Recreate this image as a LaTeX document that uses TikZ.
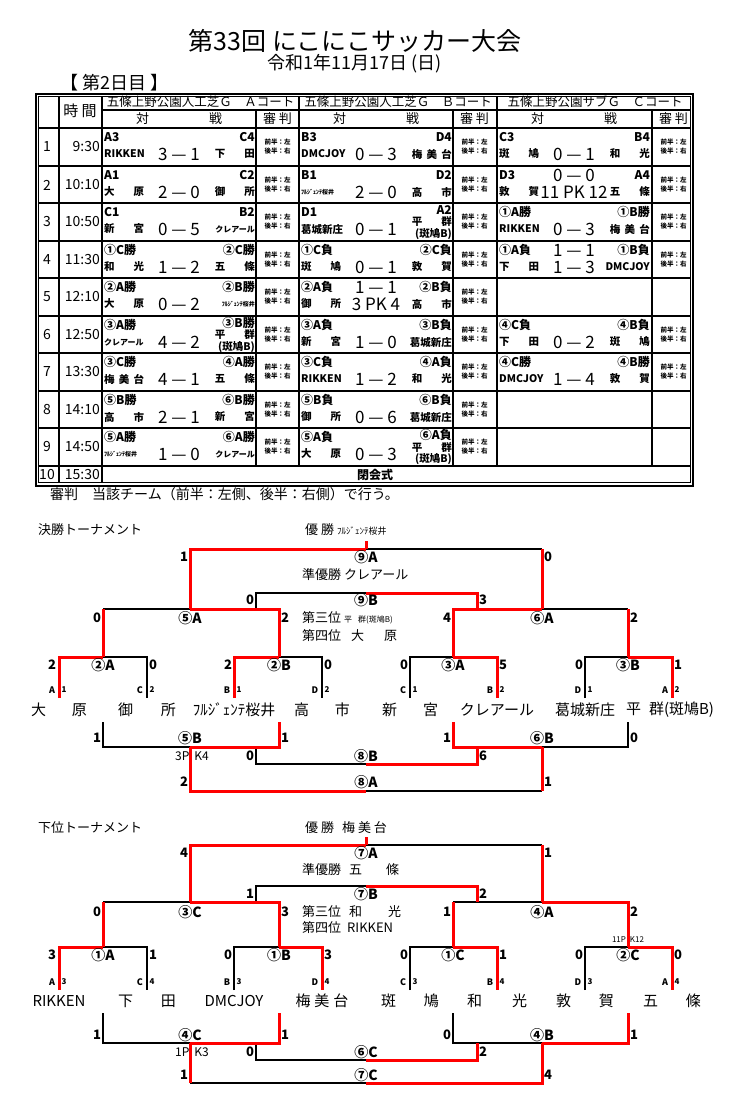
\documentclass[tikz,border=0pt]{standalone}
\usepackage{fontspec}
\setmainfont{Noto Sans CJK JP}
\newcommand\fs[1]{\fontsize{#1}{#1}\selectfont}
\newcommand\spr[1]{\makebox[40pt][s]{#1}}
\newcommand\kat[1]{{\fs{6}#1}}
\tikzset{
 tl/.style={inner sep=0pt,font=\bfseries\fs{12}},
 tm/.style={inner sep=0pt,font=\bfseries\fs{10.5}},
 scr/.style={inner sep=0pt,font=\fs{17}},
 jd/.style={inner sep=0pt,font=\bfseries\fontsize{6.5}{9}\selectfont,align=center},
 gl/.style={line width=1.2pt},
 bk/.style={line width=1.3pt,black},
 rd/.style={line width=3pt,red},
 sc/.style={inner sep=0pt,font=\bfseries\fs{13}},
 lb/.style={inner sep=0pt,font=\bfseries\fs{14}},
 sd/.style={inner sep=0pt,font=\bfseries\fs{9}},
 nm/.style={inner sep=0pt,font=\fs{15}},
 tx/.style={inner sep=0pt,font=\fs{13},anchor=west},
}
\newcommand\cell[8]{%
 \node[tl,anchor=west] at (#1+2,#2+9) {#3};
 \node[scr] at (#1+77,#2+9) {#4};
 \node[tl,anchor=east] at (#1+153,#2+9) {#5};
 \node[tm,anchor=west] at (#1+2,#2+26) {#6};
 \node[scr] at (#1+77,#2+26) {#7};
 \node[tm,anchor=east] at (#1+153,#2+26) {#8};}
\newcommand\hira[3]{%
 \node[tl,anchor=east] at (#1+153,#2+7) {#3};
 \node[tm,anchor=east] at (#1+153,#2+19) {\spr{平\hfil 群}};
 \node[tm,anchor=east] at (#1+153,#2+31) {(斑鳩B)};}
\newcommand\jdg[2]{\node[jd] at (#1+21.5,#2+19) {前半：左\\後半：右};}
\newcommand\rw[3]{\node[inner sep=0pt,font=\fs{14}] at (47,#1+19) {#2};
 \node[inner sep=0pt,font=\fs{14},anchor=east] at (100,#1+19) {#3};}
\begin{document}
\begin{tikzpicture}[x=1pt,y=-1pt]
\useasboundingbox[fill=white] (0,0) rectangle (743,1108);
% titles
\node[inner sep=0pt,font=\fs{25}] (title) at (355,41) {第33回 にこにこサッカー大会};
\node[inner sep=0pt,font=\fs{18}] (date) at (355,64) {令和1年11月17日 (日)};
\node[inner sep=0pt,font=\fs{18},anchor=west] (day) at (60,83) {【 第2日目 】};
% table grid
\draw[line width=2pt] (36,94) rectangle (693,485.5);
\draw[line width=0.8pt] (38.5,96.5) rectangle (690.5,482.5);
\draw[gl] (102,110)--(690.5,110);
\draw[gl] (38.5,128)--(690.5,128);
\foreach \y in {166,203,241,278,316,353,391,428}{\draw[gl] (38.5,\y)--(690.5,\y);}
\draw[line width=2pt] (38.5,466)--(690.5,466);
\foreach \x in {59,102}{\draw[gl] (\x,96.5)--(\x,482.5);}
\foreach \x in {299,497}{\draw[gl] (\x,96.5)--(\x,466);}
\foreach \x in {256,453,652}{\draw[gl] (\x,110)--(\x,466);}
% headers
\node[inner sep=0pt,font=\fs{15}] (jikan) at (80,111) {時 間};
\node[inner sep=0pt,font=\fs{12.5}] (ha) at (200.5,102) {五條上野公園人工芝Ｇ　Ａコート};
\node[inner sep=0pt,font=\fs{12.5}] (hb) at (398,102) {五條上野公園人工芝Ｇ　Ｂコート};
\node[inner sep=0pt,font=\fs{12.5}] (hc) at (595,102) {五條上野公園サブＧ　Ｃコート};
\foreach \x/\j in {102/256,299/453,497/652}{
 \node[inner sep=0pt,font=\fs{13}] at (\x+77,119) {対\hspace{60pt}戦};
 \node[inner sep=0pt,font=\fs{13}] at (\j+21.5,119) {審 判};}
% rows
\rw{128}{1}{9:30}\rw{166}{2}{10:10}\rw{203}{3}{10:50}\rw{241}{4}{11:30}\rw{278}{5}{12:10}
\rw{316}{6}{12:50}\rw{353}{7}{13:30}\rw{391}{8}{14:10}\rw{428}{9}{14:50}
\node[inner sep=0pt,font=\fs{14}] at (47,475) {10};
\node[inner sep=0pt,font=\fs{14},anchor=east] at (100,475) {15:30};
\node[inner sep=0pt,font=\bfseries\fs{12}] (close) at (375,475) {閉会式};
\foreach \y in {128,166,203,241,278,316,353,391,428}{\jdg{256}{\y}\jdg{453}{\y}}
\foreach \y in {128,166,203,241,316,353}{\jdg{652}{\y}}
% row 1
\cell{102}{128}{A3}{}{C4}{RIKKEN}{3 — 1}{\spr{下\hfil 田}}
\cell{299}{128}{B3}{}{D4}{DMCJOY}{0 — 3}{\spr{梅\hfil 美\hfil 台}}
\cell{497}{128}{C3}{}{B4}{\spr{斑\hfil 鳩}}{0 — 1}{\spr{和\hfil 光}}
% row 2
\cell{102}{166}{A1}{}{C2}{\spr{大\hfil 原}}{2 — 0}{\spr{御\hfil 所}}
\cell{299}{166}{B1}{}{D2}{\kat{ﾌﾙｼﾞｪﾝﾃ桜井}}{2 — 0}{\spr{高\hfil 市}}
\cell{497}{166}{D3}{0 — 0}{A4}{\spr{敦\hfil 賀}}{11 PK 12}{\spr{五\hfil 條}}
% row 3
\cell{102}{203}{C1}{}{B2}{\spr{新\hfil 宮}}{0 — 5}{\fs{8}クレアール}
\cell{299}{203}{D1}{}{}{葛城新庄}{0 — 1}{}
\hira{299}{203}{A2}
\cell{497}{203}{①A勝}{}{①B勝}{RIKKEN}{0 — 3}{\spr{梅\hfil 美\hfil 台}}
% row 4
\cell{102}{241}{①C勝}{}{②C勝}{\spr{和\hfil 光}}{1 — 2}{\spr{五\hfil 條}}
\cell{299}{241}{①C負}{}{②C負}{\spr{斑\hfil 鳩}}{0 — 1}{\spr{敦\hfil 賀}}
\cell{497}{241}{①A負}{1 — 1}{①B負}{\spr{下\hfil 田}}{1 — 3}{DMCJOY}
% row 5
\cell{102}{278}{②A勝}{}{②B勝}{\spr{大\hfil 原}}{0 — 2}{\kat{ﾌﾙｼﾞｪﾝﾃ桜井}}
\cell{299}{278}{②A負}{1 — 1}{②B負}{\spr{御\hfil 所}}{3 PK 4}{\spr{高\hfil 市}}
% row 6
\cell{102}{316}{③A勝}{}{}{\fs{8}クレアール}{4 — 2}{}
\hira{102}{316}{③B勝}
\cell{299}{316}{③A負}{}{③B負}{\spr{新\hfil 宮}}{1 — 0}{葛城新庄}
\cell{497}{316}{④C負}{}{④B負}{\spr{下\hfil 田}}{0 — 2}{\spr{斑\hfil 鳩}}
% row 7
\cell{102}{353}{③C勝}{}{④A勝}{\spr{梅\hfil 美\hfil 台}}{4 — 1}{\spr{五\hfil 條}}
\cell{299}{353}{③C負}{}{④A負}{RIKKEN}{1 — 2}{\spr{和\hfil 光}}
\cell{497}{353}{④C勝}{}{④B勝}{DMCJOY}{1 — 4}{\spr{敦\hfil 賀}}
% row 8
\cell{102}{391}{⑤B勝}{}{⑥B勝}{\spr{高\hfil 市}}{2 — 1}{\spr{新\hfil 宮}}
\cell{299}{391}{⑤B負}{}{⑥B負}{\spr{御\hfil 所}}{0 — 6}{葛城新庄}
% row 9
\cell{102}{428}{⑤A勝}{}{⑥A勝}{\kat{ﾌﾙｼﾞｪﾝﾃ桜井}}{1 — 0}{\fs{8}クレアール}
\cell{299}{428}{⑤A負}{}{}{\spr{大\hfil 原}}{0 — 3}{}
\hira{299}{428}{⑥A負}
\node[inner sep=0pt,font=\fs{14},anchor=west] (note) at (50,494) {審判　当該チーム（前半：左側、後半：右側）で行う。};

% ===== bracket 1 =====
\node[tx] (t1) at (38,530) {決勝トーナメント};
\node[tx] (w1) at (305,530) {優 勝 \kat{\fs{9}ﾌﾙｼﾞｪﾝﾃ桜井}};
\node[tx] (r1) at (302,575) {準優勝 クレアール};
\node[tx] (p3) at (302,618) {第三位 {\fs{8}平\hspace{6pt}群(斑鳩B)}};
\node[tx] (p4) at (302,636) {第四位\hspace{10pt}大\hspace{20pt}原};
\draw[bk] (366,549)--(542,549);
\draw[bk] (256,609)--(256,593)--(366,593);
\draw[bk] (103,609)--(190,609);
\draw[bk] (542,609)--(628,609);
\draw[bk] (103,657)--(147,657)--(147,698);
\draw[bk] (279,657)--(322,657)--(322,698);
\draw[bk] (410,698)--(410,657)--(453,657);
\draw[bk] (585,698)--(585,657)--(628,657);
\draw[bk] (103,722)--(103,747)--(190,747);
\draw[bk] (542,747)--(628,747)--(628,722);
\draw[bk] (256,747)--(256,764)--(366,764);
\draw[bk] (366,791)--(542,791);
\draw[rd] (366,541)--(366,549);
\draw[rd] (190,609)--(190,549)--(366,549);
\draw[rd] (542,549)--(542,609);
\draw[rd] (366,593)--(477,593)--(477,609);
\draw[rd] (103,657)--(103,609);
\draw[rd] (190,609)--(279,609)--(279,657);
\draw[rd] (453,657)--(453,609)--(542,609);
\draw[rd] (628,609)--(628,657);
\draw[rd] (59,698)--(59,657)--(103,657);
\draw[rd] (234,698)--(234,657)--(279,657);
\draw[rd] (453,657)--(497,657)--(497,698);
\draw[rd] (628,657)--(672,657)--(672,698);
\draw[rd] (190,747)--(279,747)--(279,722);
\draw[rd] (453,722)--(453,747)--(542,747);
\draw[rd] (366,764)--(477,764)--(477,747);
\draw[rd] (542,747)--(542,791);
\draw[rd] (190,747)--(190,791)--(366,791);
% labels b1
\foreach \x/\y/\t in {366/557/⑨A,366/600/⑨B,190/618/⑤A,542/618/⑥A,103/665/②A,279/665/②B,453/665/③A,628/665/③B,190/738/⑤B,542/738/⑥B,366/756/⑧B,366/782/⑧A}{\node[lb] at (\x,\y) {\t};}
\foreach \x/\y/\t in {184/557/1,548/557/0,250/600/0,483/600/3,97/618/0,285/618/2,447/618/4,634/618/2,
 52/665/2,153/665/0,228/665/2,328/665/0,404/665/0,503/665/5,579/665/0,678/665/1,
 97/738/1,285/738/1,447/738/1,634/738/0,250/756/0,483/756/6,184/782/2,548/782/1}{\node[sc] at (\x,\y) {\t};}
\foreach \x/\l/\n in {59/A/1,147/C/2,234/B/1,322/D/2,410/C/1,497/B/2,585/D/1,672/A/2}{
 \node[sd] at (\x-7,690) {\l};\node[sd,font=\bfseries\fs{8}] at (\x+5,690) {\n};}
\node[inner sep=0pt,font=\fs{12}] at (192,756) {3P\hspace{5pt}K4};
\node[nm] at (59,710) {大\hspace{26pt}原};
\node[nm] at (147,710) {御\hspace{28pt}所};
\node[nm] at (234,710) {ﾌﾙｼﾞｪﾝﾃ桜井};
\node[nm] at (322,710) {高\hspace{26pt}市};
\node[nm] at (410,710) {新\hspace{26pt}宮};
\node[nm] at (497,710) {クレアール};
\node[nm] at (585,710) {葛城新庄};
\node[nm] at (670,710) {平\hspace{8pt}群(斑鳩B)};

% ===== bracket 2 =====
\node[tx] (t2) at (38,828) {下位トーナメント};
\node[tx] (w2) at (305,828) {優 勝\hspace{8pt}梅 美 台};
\node[tx] (r2) at (302,870) {準優勝\hspace{8pt}五\hspace{24pt}條};
\node[tx] (p3b) at (302,912) {第三位\hspace{8pt}和\hspace{26pt}光};
\node[tx] (p4b) at (302,928) {第四位\hspace{6pt}RIKKEN};
\draw[bk] (366,845)--(542,845);
\draw[bk] (256,902)--(256,886)--(366,886);
\draw[bk] (103,902)--(190,902);
\draw[bk] (453,902)--(542,902);
\draw[bk] (103,947)--(147,947)--(147,990);
\draw[bk] (234,990)--(234,947)--(279,947);
\draw[bk] (410,990)--(410,947)--(453,947);
\draw[bk] (585,990)--(585,947)--(628,947);
\draw[bk] (103,1013)--(103,1043)--(190,1043);
\draw[bk] (453,1013)--(453,1043)--(542,1043);
\draw[bk] (256,1043)--(256,1060)--(366,1060);
\draw[bk] (190,1083)--(366,1083);
\draw[rd] (366,837)--(366,845);
\draw[rd] (190,902)--(190,845)--(366,845);
\draw[rd] (542,845)--(542,902);
\draw[rd] (366,886)--(477,886)--(477,902);
\draw[rd] (103,947)--(103,902);
\draw[rd] (190,902)--(279,902)--(279,947);
\draw[rd] (453,947)--(453,902);
\draw[rd] (542,902)--(628,902)--(628,947);
\draw[rd] (59,990)--(59,947)--(103,947);
\draw[rd] (279,947)--(322,947)--(322,990);
\draw[rd] (453,947)--(497,947)--(497,990);
\draw[rd] (628,947)--(672,947)--(672,990);
\draw[rd] (190,1043)--(279,1043)--(279,1013);
\draw[rd] (542,1043)--(628,1043)--(628,1013);
\draw[rd] (366,1060)--(477,1060)--(477,1043);
\draw[rd] (190,1043)--(190,1083);
\draw[rd] (366,1083)--(542,1083)--(542,1043);
\foreach \x/\y/\t in {366/853/⑦A,366/894/⑦B,190/912/③C,542/912/④A,103/955/①A,279/955/①B,453/955/①C,628/955/②C,190/1035/④C,542/1035/④B,366/1052/⑥C,366/1075/⑦C}{\node[lb] at (\x,\y) {\t};}
\foreach \x/\y/\t in {184/853/4,548/853/1,250/894/1,483/894/2,97/912/0,285/912/3,447/912/1,634/912/2,
 52/955/3,153/955/1,228/955/0,328/955/3,404/955/0,503/955/1,579/955/0,678/955/0,
 97/1035/1,285/1035/1,447/1035/0,634/1035/1,250/1052/0,483/1052/2,184/1075/1,548/1075/4}{\node[sc] at (\x,\y) {\t};}
\foreach \x/\l/\n in {59/A/3,147/C/4,234/B/3,322/D/4,410/C/3,497/B/4,585/D/3,672/A/4}{
 \node[sd] at (\x-7,982) {\l};\node[sd,font=\bfseries\fs{8}] at (\x+5,982) {\n};}
\node[inner sep=0pt,font=\fs{12}] at (192,1052) {1P\hspace{5pt}K3};
\node[inner sep=0pt,font=\fs{8}] at (628,940) {11P\hspace{4pt}K12};
\node[nm] at (59,1001) {RIKKEN};
\node[nm] at (147,1001) {下\hspace{28pt}田};
\node[nm] at (234,1001) {DMCJOY};
\node[nm] at (322,1001) {梅\hspace{4pt}美\hspace{4pt}台};
\node[nm] at (410,1001) {斑\hspace{28pt}鳩};
\node[nm] at (497,1001) {和\hspace{30pt}光};
\node[nm] at (585,1001) {敦\hspace{28pt}賀};
\node[nm] at (672,1001) {五\hspace{28pt}條};
\end{tikzpicture}
\end{document}
